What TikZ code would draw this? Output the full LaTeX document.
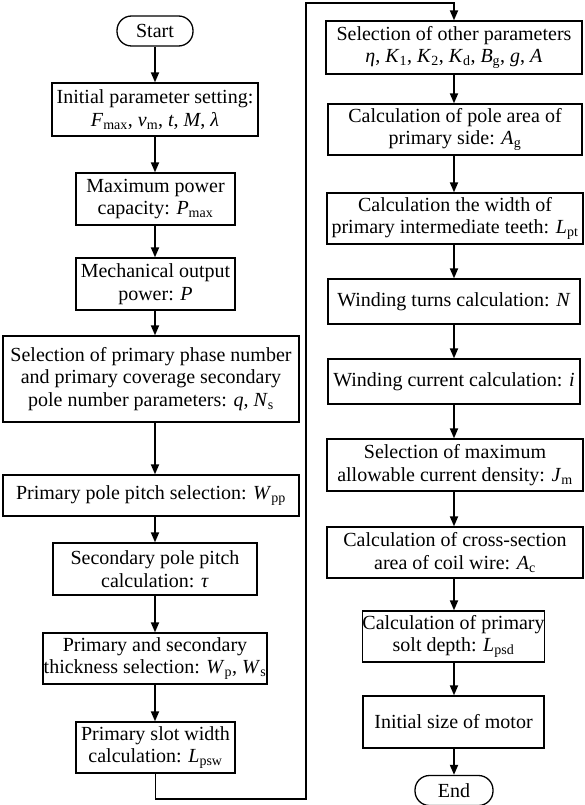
\documentclass[tikz,border=0pt]{standalone}
\usepackage{fontspec}
\setmainfont{Liberation Serif}
\usetikzlibrary{arrows.meta}
\newcommand{\iv}[1]{\textit{#1}}
\newcommand{\sbs}[1]{\textsubscript{#1}}
\begin{document}
\begin{tikzpicture}[x=1pt,y=1pt,
  box/.style={draw, line width=1.3pt, inner sep=0pt, align=center,
    font=\fontsize{20}{22.5}\selectfont},
  term/.style={box, rounded corners=14.5pt},
  conn/.style={line width=1.8pt, -{Triangle[length=10pt,width=8pt]}}]
\useasboundingbox (0,0) rectangle (584,-805);
\coordinate (lx) at (155,0);
\coordinate (rx) at (454,0);
% left column
\node[term, minimum width=76pt, minimum height=30pt] (start) at (155,-31) {Start};
\node[box, minimum width=206pt, minimum height=53pt] (b1) at (155,-109.5)
  {Initial parameter setting:\\ \iv{F}\sbs{max}, \iv{v}\sbs{m}, \iv{t}, \iv{M}, \iv{λ}};
\node[box, minimum width=159pt, minimum height=52pt] (b2) at (155.5,-199)
  {Maximum power\\ capacity: \iv{P}\sbs{max}};
\node[box, minimum width=159pt, minimum height=52pt] (b3) at (155.5,-284)
  {Mechanical output\\ power: \iv{P}};
\node[box, minimum width=296pt, minimum height=86pt] (b4) at (151,-379)
  {Selection of primary phase number\\ and primary coverage secondary\\ pole number parameters: \iv{q}, \iv{N}\sbs{s}};
\node[box, minimum width=296pt, minimum height=41pt] (b5) at (151,-495.5)
  {Primary pole pitch selection: \iv{W}\sbs{pp}};
\node[box, minimum width=204pt, minimum height=52pt] (b6) at (155,-569)
  {Secondary pole pitch\\ calculation: \iv{τ}};
\node[box, minimum width=224pt, minimum height=51pt] (b7) at (155,-658.5)
  {Primary and secondary\\ thickness selection: \iv{W}\sbs{p}, \iv{W}\sbs{s}};
\node[box, minimum width=159pt, minimum height=51pt] (b8) at (155.5,-747.5)
  {Primary slot width\\ calculation: \iv{L}\sbs{psw}};
% right column
\node[box, minimum width=256pt, minimum height=53pt] (r1) at (454,-47.5)
  {Selection of other parameters\\ \iv{η}, \iv{K}\sbs{1}, \iv{K}\sbs{2}, \iv{K}\sbs{d}, \iv{B}\sbs{g}, \iv{g}, \iv{A}};
\node[box, minimum width=254pt, minimum height=51pt] (r2) at (455,-129.5)
  {Calculation of pole area of\\ primary side: \iv{A}\sbs{g}};
\node[box, minimum width=256pt, minimum height=51pt] (r3) at (455,-218.5)
  {Calculation the width of\\ primary intermediate teeth: \iv{L}\sbs{pt}};
\node[box, minimum width=252pt, minimum height=45pt] (r4) at (454,-301.5)
  {Winding turns calculation: \iv{N}};
\node[box, minimum width=252pt, minimum height=45pt] (r5) at (454,-381.5)
  {Winding current calculation: \iv{i}};
\node[box, minimum width=256pt, minimum height=52pt] (r6) at (455,-465)
  {Selection of maximum\\ allowable current density: \iv{J}\sbs{m}};
\node[box, minimum width=256pt, minimum height=51pt] (r7) at (455,-552.5)
  {Calculation of cross-section\\ area of coil wire: \iv{A}\sbs{c}};
\node[box, minimum width=181pt, minimum height=51pt] (r8) at (453.5,-636.5)
  {Calculation of primary\\ solt depth: \iv{L}\sbs{psd}};
\node[box, minimum width=181pt, minimum height=52pt] (r9) at (453.5,-722)
  {Initial size of motor};
\node[term, minimum width=78pt, minimum height=30pt] (end) at (454,-790.5) {End};
% connectors
\foreach \a/\b in {start/b1,b1/b2,b2/b3,b3/b4,b4/b5,b5/b6,b6/b7,b7/b8}
  \draw[conn] (lx |- \a.south) -- (lx |- \b.north);
\foreach \a/\b in {r1/r2,r2/r3,r3/r4,r4/r5,r5/r6,r6/r7,r7/r8,r8/r9,r9/end}
  \draw[conn] (rx |- \a.south) -- (rx |- \b.north);
\coordinate (lb) at (306,-799);
\coordinate (lt) at (306,-3);
\draw[conn] (b8.south) |- (lb) -- (lt) -| (r1.north);
\end{tikzpicture}
\end{document}
